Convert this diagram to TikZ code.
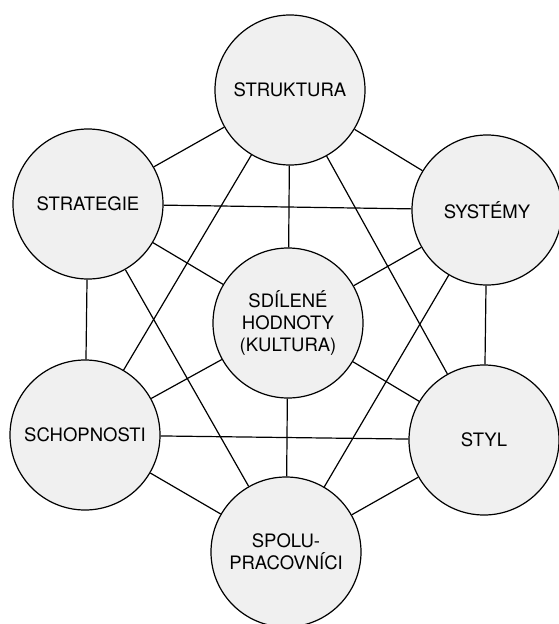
\documentclass[tikz,border=0pt]{standalone}
\usepackage{fontspec}
\setmainfont{TeX Gyre Heros}
\usetikzlibrary{positioning}
\tikzset{
  sev/.style ={draw,circle,fill=gray!12,line width=1.2pt,minimum size=150pt,
               inner sep=0pt,align=center,font=\fontsize{18.5}{22}\selectfont},
  tie/.style ={line width=1.2pt},
}

\begin{document}
\begin{tikzpicture}[x=1pt,y=-1pt]
\useasboundingbox (0,0) rectangle (559,624);
\node[sev] (STR) at (290,90) {STRUKTURA};
\node[sev] (STG) at (88,204) {STRATEGIE};
\node[sev] (SYS) at (487,210) {SYSTÉMY};
\node[sev] (HOD) at (288,323) {SDÍLENÉ\\HODNOTY\\(KULTURA)};
\node[sev] (SCH) at (85,435) {SCHOPNOSTI};
\node[sev] (STY) at (484,440) {STYL};
\node[sev] (SPO) at (286,552) {SPOLU-\\PRACOVNÍCI};
\draw[tie] (STR)--(STG); \draw[tie] (STR)--(SYS); \draw[tie] (STR)--(HOD);
\draw[tie] (STR)--(SCH); \draw[tie] (STR)--(STY);
\draw[tie] (STG)--(SYS); \draw[tie] (STG)--(HOD); \draw[tie] (STG)--(SCH);
\draw[tie] (STG)--(SPO);
\draw[tie] (SYS)--(HOD); \draw[tie] (SYS)--(STY); \draw[tie] (SYS)--(SPO);
\draw[tie] (HOD)--(SCH); \draw[tie] (HOD)--(STY); \draw[tie] (HOD)--(SPO);
\draw[tie] (SCH)--(STY); \draw[tie] (SCH)--(SPO);
\draw[tie] (STY)--(SPO);
\end{tikzpicture}
\end{document}
